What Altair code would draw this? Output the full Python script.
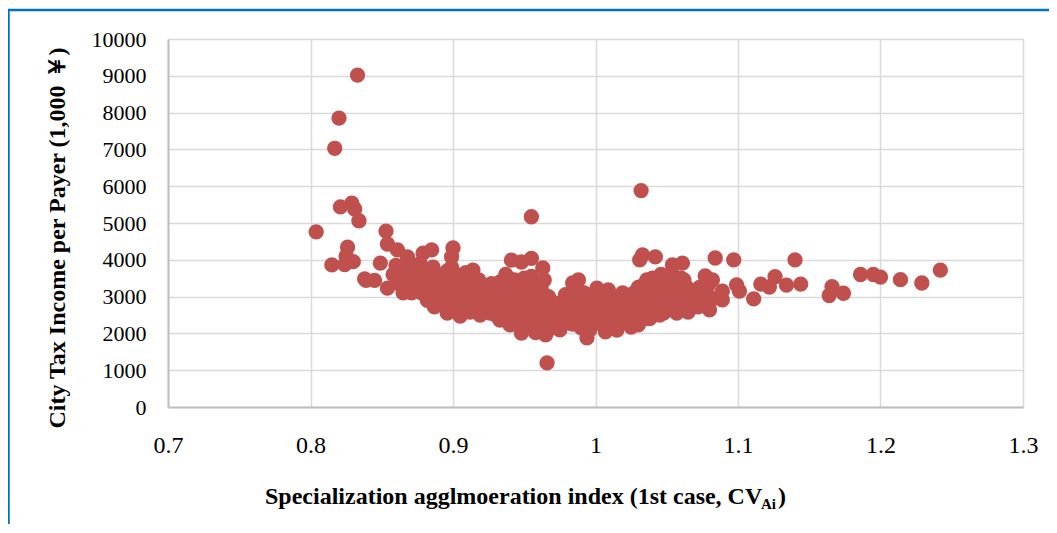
import altair as alt
import pandas as pd

outlier_x = [0.833,0.820,0.817,0.829,0.831,0.821,0.834,0.804,0.815,0.826,0.825,0.824,0.830,0.838,0.839,0.845,
             0.853,0.854,0.861,0.849,0.854,0.865,0.871,0.868,0.879,0.885,0.900,0.899,0.914,0.955,0.941,0.955,0.948,
             1.032,1.033,1.031,1.042,1.054,1.061,1.084,1.097,1.077,1.082,1.099,1.101,1.111,1.116,1.122,1.126,1.089,1.089,1.080,
             0.966,1.134,1.144,1.140,1.164,1.166,1.174,1.186,1.195,1.200,1.214,1.229,1.242]
outlier_y = [9020,7850,7030,5540,5380,5440,5060,4760,3860,4340,4100,3870,3950,3480,3440,3440,
             4780,4430,4270,3910,3230,3100,3100,4075,4180,4270,4320,4080,3720,5170,3990,4040,3940,
             5880,4130,4000,4080,3860,3910,4050,4000,3560,3450,3320,3150,2940,3340,3260,3540,3150,2910,2640,
             1200,3310,3340,4000,3030,3270,3090,3600,3600,3530,3460,3370,3720]

edge_x = [0.882,0.887,0.896,0.905,0.919,0.933,0.940,0.948,0.965,1.030,1.015,1.007,0.994,1.065,1.057,1.045,
          0.988,0.984,1.001,1.009,1.019,0.963,0.961,0.958,0.975,0.982,1.025,1.038,1.048,1.072]
edge_y = [2900,2720,2550,2470,2500,2360,2230,2010,1960,2230,2090,2040,1880,2580,2550,2500,
          3450,3370,3230,3180,3100,3780,3320,2020,2100,2280,2170,2400,2560,2720]

cluster_x = [0.858,0.862,0.866,0.870,0.864,0.868,0.873,0.876,0.860,0.872,0.878,0.881,0.884,0.877,0.883,0.887,0.880,
             0.889,0.892,0.886,0.891,0.895,0.888,0.893,0.898,0.896,0.901,0.904,0.899,0.903,0.907,0.902,0.906,
             0.910,0.913,0.909,0.912,0.916,0.908,0.915,0.918,0.921,0.917,0.920,0.924,0.919,0.923,0.927,
             0.930,0.926,0.929,0.933,0.928,0.932,0.936,0.931,0.935,0.939,0.938,0.942,0.937,0.941,0.945,0.940,0.944,
             0.948,0.943,0.947,0.951,0.946,0.950,0.954,0.949,0.953,0.957,0.952,0.956,0.960,0.955,0.959,0.963,0.958,
             0.962,0.966,0.961,0.965,0.969,0.964,0.968,0.972,0.967,0.971,0.975,0.970,0.974,0.978,0.973,0.977,
             0.981,0.976,0.980,0.984,0.979,0.983,0.987,0.982,0.986,0.990,0.985,0.989,0.993,0.988,0.992,0.996,
             0.991,0.995,0.999,0.994,0.998,1.002,0.997,1.001,1.005,1.000,1.004,1.008,1.003,1.007,1.011,1.006,
             1.010,1.014,1.009,1.013,1.017,1.012,1.016,1.020,1.015,1.019,1.023,1.018,1.022,1.026,1.021,1.025,
             1.029,1.024,1.028,1.032,1.027,1.031,1.035,1.030,1.034,1.038,1.033,1.037,1.041,1.036,1.040,1.044,
             1.039,1.043,1.047,1.042,1.046,1.050,1.045,1.049,1.053,1.048,1.052,1.056,1.051,1.055,1.059,1.054,
             1.058,1.062,1.057,1.061,1.065,1.060,1.064,1.068,1.063,1.067,1.071,1.066,1.070,1.074,1.069,1.073,1.077,1.076,1.079,1.083]
cluster_y = [3600,3350,3800,3300,3550,3150,3650,3400,3850,3850,3150,3700,3450,3900,3150,3650,3350,
             3000,3500,3800,2800,3250,3550,3050,3650,2620,3350,3000,3800,2650,3500,3150,2560,
             2850,3300,3650,2580,3100,3250,2800,3450,2620,3000,3250,2800,2580,3050,3350,
             2500,3100,2800,3400,2620,3050,2500,3250,2800,3500,2350,3000,3600,2650,3250,2350,2850,
             2200,3450,2600,3100,2800,2150,3400,2450,2900,2250,3200,2650,2400,3550,3000,2750,2500,
             3200,2150,2600,2850,2300,3450,2600,2200,3000,2450,2750,2150,2550,2900,2300,2700,
             2450,2850,2600,2250,3050,2750,2400,3000,2950,2150,2600,3150,2300,2800,2600,2100,
             3050,2450,2800,2250,3000,2500,2800,3100,2350,2700,2950,2250,2600,2850,2200,3050,
             2450,2750,2250,2900,2300,2600,2850,2350,2650,2950,2300,2600,2800,2400,2650,2250,
             2500,2900,2700,2500,3100,2800,2400,3250,2950,2550,3300,2700,2650,3450,3000,2750,
             3250,3500,2650,2900,3250,3550,2800,3100,2700,3300,3500,2800,3050,3350,2750,3600,
             3000,3450,2650,3200,2850,3500,3100,2800,3300,2950,2800,3150,3000,2820,3050,3250,2900,3100,3300,2950]

dense_x = [0.872,0.872,0.872, 0.878,0.878,0.878, 0.884,0.884,0.884,0.884, 0.890,0.890,0.890,0.890,
           0.896,0.896,0.896,0.896,0.896, 0.902,0.902,0.902,0.902,0.902, 0.908,0.908,0.908,0.908,
           0.914,0.914,0.914,0.914, 0.920,0.920,0.920, 0.926,0.926,0.926,0.926, 0.932,0.932,0.932,0.932,
           0.938,0.938,0.938,0.938,0.938, 0.944,0.944,0.944,0.944,0.944, 0.950,0.950,0.950,0.950,0.950,0.950,
           0.956,0.956,0.956,0.956,0.956,0.956, 0.962,0.962,0.962,0.962, 0.968,0.968,0.968,
           0.974,0.974,0.974, 0.980,0.980,0.980, 0.986,0.986,0.986,0.986,0.986, 0.992,0.992,0.992,0.992,0.992,
           0.998,0.998,0.998,0.998, 1.004,1.004,1.004,1.004, 1.010,1.010,1.010,1.010, 1.016,1.016,1.016,1.016,
           1.022,1.022,1.022, 1.028,1.028,1.028,1.028, 1.034,1.034,1.034,1.034, 1.040,1.040,1.040,1.040,1.040,
           1.046,1.046,1.046,1.046,1.046, 1.052,1.052,1.052,1.052, 1.058,1.058,1.058,1.058,
           1.064,1.064,1.064, 1.070,1.070, 1.076,1.076,1.076]
dense_y = [3250,3500,3750, 3100,3350,3600, 2950,3200,3450,3700, 2800,3050,3300,3550,
           2700,2950,3200,3450,3700, 2600,2850,3100,3350,3600, 2600,2850,3100,3350,
           2650,2900,3150,3400, 2650,2900,3150, 2550,2800,3050,3300, 2550,2800,3050,3300,
           2400,2650,2900,3150,3400, 2350,2600,2850,3100,3350, 2250,2500,2750,3000,3250,3500,
           2200,2450,2700,2950,3200,3450, 2200,2450,2700,2950, 2200,2450,2700,
           2300,2550,2800, 2400,2650,2900, 2300,2550,2800,3050,3250, 2150,2400,2650,2900,3100,
           2300,2550,2800,3050, 2250,2500,2750,3000, 2250,2500,2750,3000, 2300,2550,2800,3000,
           2350,2600,2850, 2400,2650,2900,3100, 2500,2750,3000,3250, 2550,2800,3050,3300,3500,
           2650,2900,3150,3400,3600, 2700,2950,3200,3450, 2750,3000,3250,3450,
           2750,3000,3250, 2800,3050, 2800,3050,3250]

xs = outlier_x + edge_x + cluster_x + dense_x
ys = outlier_y + edge_y + cluster_y + dense_y
x_ticks = [0.7, 0.8, 0.9, 1.0, 1.1, 1.2, 1.3]
y_ticks = list(range(0, 11000, 1000))
x_title = "Specialization agglmoeration index (1st case, CV"
x_sub = "Ai"
x_close = ")"
y_title = "City Tax Income per Payer (1,000 ￥)"

W, H = 855, 368
FONT = "Liberation Serif"
df = pd.DataFrame({"x": xs, "y": ys})
one = pd.DataFrame({"a": [0]})

points = alt.Chart(df).mark_circle(size=235, color="#C0504D", opacity=1).encode(
    x=alt.X("x:Q", scale=alt.Scale(domain=[0.7, 1.3], nice=False, zero=False),
            axis=alt.Axis(values=x_ticks, format=".1~f", title=None, grid=True, gridColor="#D9D9D9", gridWidth=1.5,
                          domainColor="#BFBFBF", domainWidth=2, ticks=False, labelFont=FONT, labelFontSize=24,
                          labelColor="#000000", labelPadding=26, labelFlush=False)),
    y=alt.Y("y:Q", scale=alt.Scale(domain=[0, 10000], nice=False),
            axis=alt.Axis(values=y_ticks, format="d", title=None, grid=True, gridColor="#D9D9D9", gridWidth=1.5,
                          domainColor="#BFBFBF", domainWidth=2, ticks=False, labelFont=FONT, labelFontSize=22,
                          labelColor="#000000", labelPadding=22)),
)

def label(text, px, py, size=21, align="left", angle=0):
    return alt.Chart(one).mark_text(text=text, font=FONT, fontSize=size, fontWeight="bold", color="#000000",
                                    align=align, baseline="middle", angle=angle).encode(
        x=alt.value(px), y=alt.value(py))

texts = [
    label(x_title, 97, H + 90, 24),
    label(x_sub, 593, H + 97, 15),
    label(x_close, 610, H + 90, 24),
    label(y_title, -110, 199, 24, align="center", angle=270),
]
frame_top = alt.Chart(one).mark_rule(color="#0070C0", strokeWidth=2.5).encode(
    x=alt.value(-160), x2=alt.value(W + 30), y=alt.value(-29))
frame_left = alt.Chart(one).mark_rule(color="#0070C0", strokeWidth=2.5).encode(
    x=alt.value(-159.5), y=alt.value(-30), y2=alt.value(H + 118))

chart = alt.layer(frame_top, frame_left, points, *texts).properties(
    width=W, height=H,
    autosize=alt.AutoSizeParams(type="none"),
    padding={"left": 160, "top": 31, "right": 26, "bottom": 117},
).configure_view(stroke=None)

chart.save("out.html", embed_options={"renderer": "svg", "actions": False})
